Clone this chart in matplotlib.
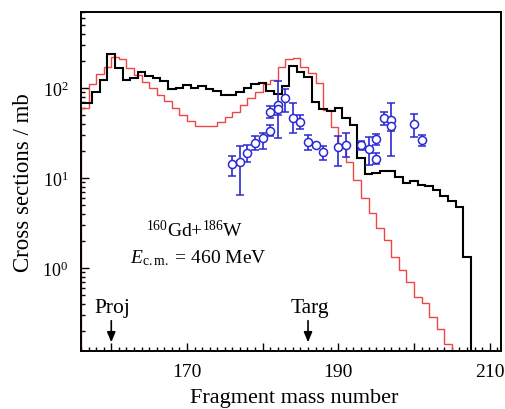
import numpy as np
import matplotlib
matplotlib.use('Agg')
import matplotlib.pyplot as plt
from matplotlib.ticker import MultipleLocator, FixedLocator, LogLocator, FuncFormatter, NullFormatter, LogFormatterSciNotation

plt.rcParams['font.family'] = ['Liberation Serif', 'DejaVu Serif']
plt.rcParams['mathtext.fontset'] = 'custom'
plt.rcParams['mathtext.rm'] = 'Liberation Serif'
plt.rcParams['mathtext.it'] = 'Liberation Serif:italic'
plt.rcParams['mathtext.bf'] = 'Liberation Serif:bold'

# ---- data -------------------------------------------------------------
# black histogram: bins centred on integer mass numbers
black_mass = np.arange(156, 208)
black_cs = [68, 68, 91, 123, 241, 166, 123, 130, 150, 137,
            128, 120, 97, 101, 108, 101, 105, 98, 93, 84,
            84, 91, 101, 110, 115, 93, 86, 105, 178, 152,
            134, 70, 59, 55, 60, 46, 39, 16.7, 11, 11.3,
            12, 12, 10.3, 8.8, 9.2, 8.4, 8.2, 7.4, 6.3, 5.5,
            4.8, 1.34]

# red histogram: bins [A, A+1)
red_mass = np.arange(156, 205)
red_cs = [60, 110, 145, 172, 223, 208, 166, 139, 117, 99,
          84, 71, 60, 50, 43, 38, 38, 38, 42, 48,
          54, 65, 77, 91, 112, 124, 170, 208, 215, 172,
          146, 113, 57, 37, 21.5, 15, 9.5, 6.0, 4.1, 2.8,
          2.05, 1.32, 0.95, 0.70, 0.48, 0.41, 0.29, 0.21, 0.145]

# experimental points
exp_mass = [176, 177, 178, 179, 180, 181, 181, 182, 182, 183, 184, 185, 186,
            187, 188, 190, 191, 193, 194, 195, 195, 196, 197, 197, 200, 201]
exp_cs = [14.2, 15.2, 18.8, 24.3, 27.6, 33.6, 54.6, 64.5, 58, 76.6, 46.8, 42.4, 25.4,
          23.3, 19.6, 21.9, 23.3, 23.3, 20.8, 26.9, 16.1, 46.1, 44.1, 38, 39.8, 26.4]
exp_lo = [10.5, 6.5, 15.2, 20.5, 20.8, 29.4, 46, 27.6, 50, 53.6, 31.3, 34.7, 20.5,
          21.9, 15.8, 13.6, 17.0, 20.5, 13.9, 23.3, 14.3, 38.8, 17.6, 33, 28.8, 22.7]
exp_hi = [17.7, 22.7, 23.3, 29.4, 31.3, 38.8, 63, 119, 66, 97.6, 67.5, 50, 30,
          24.6, 22.7, 29.4, 31.8, 26, 28.8, 30.8, 18.8, 54.6, 68.6, 44, 51, 30]

proj_mass = 160
targ_mass = 186

# ---- figure -----------------------------------------------------------
fig = plt.figure(figsize=(5.06, 4.10), dpi=100)
ax = fig.add_axes([81/506, 58/410, 420/506, 339/410])

bm = np.asarray(black_mass)
black_edges = np.append(bm - 0.5, bm[-1] + 0.5)
rm = np.asarray(red_mass)
red_edges = np.append(rm, rm[-1] + 1)

ax.stairs(red_cs, red_edges, baseline=1e-3, color='#ee4646', lw=1.0, zorder=2)
ax.stairs(black_cs, black_edges, baseline=1e-3, color='black', lw=1.5, zorder=2.5)

em = np.asarray(exp_mass, float)
ev = np.asarray(exp_cs, float)
elo = np.asarray(exp_lo, float)
ehi = np.asarray(exp_hi, float)
ax.errorbar(em, ev, yerr=[ev - elo, ehi - ev], fmt='o', ms=5.8, mfc='white',
            mec='#2a2ad2', mew=1.1, ecolor='#2a2ad2', elinewidth=1.2,
            capsize=3.2, capthick=1.2, zorder=3)

ax.set_yscale('log')
ax.set_xlim(156, 211.5)
ax.set_ylim(0.12, 700)

ax.xaxis.set_major_locator(MultipleLocator(10))
ax.xaxis.set_minor_locator(MultipleLocator(1))
ax.xaxis.set_major_formatter(FuncFormatter(lambda v, p: f'{int(round(v))}' if int(round(v)) % 20 == 10 else ''))
ax.yaxis.set_major_locator(FixedLocator([1, 10, 100]))
ax.yaxis.set_minor_locator(LogLocator(base=10, subs=np.arange(2, 10), numticks=20))
ax.yaxis.set_major_formatter(LogFormatterSciNotation())
ax.yaxis.set_minor_formatter(NullFormatter())

ax.tick_params(which='both', direction='in', top=False, right=False, width=1.0)
ax.tick_params(which='major', length=6, pad=9)
ax.tick_params(which='minor', length=3)
ax.tick_params(axis='x', which='major', labelsize=14)
ax.tick_params(axis='y', which='major', labelsize=13, pad=9)
for s in ax.spines.values():
    s.set_linewidth(1.4)

ax.set_xlabel('Fragment mass number', fontsize=16)
ax.set_ylabel('Cross sections / mb', fontsize=16.5)
ax.xaxis.set_label_coords(0.508, -0.110)
ax.yaxis.set_label_coords(-0.113, 0.5)

ax.text(0.155, 0.340, r'$^{160}$Gd+$^{186}$W', transform=ax.transAxes, fontsize=14, ha='left', va='baseline')
ax.text(0.117, 0.262, r'$E_{\mathrm{c.m.}}$ = 460 MeV', transform=ax.transAxes, fontsize=14, ha='left', va='baseline')

for m, lab in [(proj_mass, 'Proj'), (targ_mass, 'Targ')]:
    ax.annotate('', xy=(m, 0.0257), xytext=(m, 0.0894),
                xycoords=('data', 'axes fraction'), textcoords=('data', 'axes fraction'),
                arrowprops=dict(arrowstyle='-|>,head_length=0.6,head_width=0.25',
                                lw=1.2, color='black', shrinkA=0, shrinkB=0))
    ax.text(m + 0.2, 0.115, lab, transform=ax.get_xaxis_transform(), fontsize=15.5,
            ha='center', va='baseline')

fig.savefig('out.png', dpi=100)
